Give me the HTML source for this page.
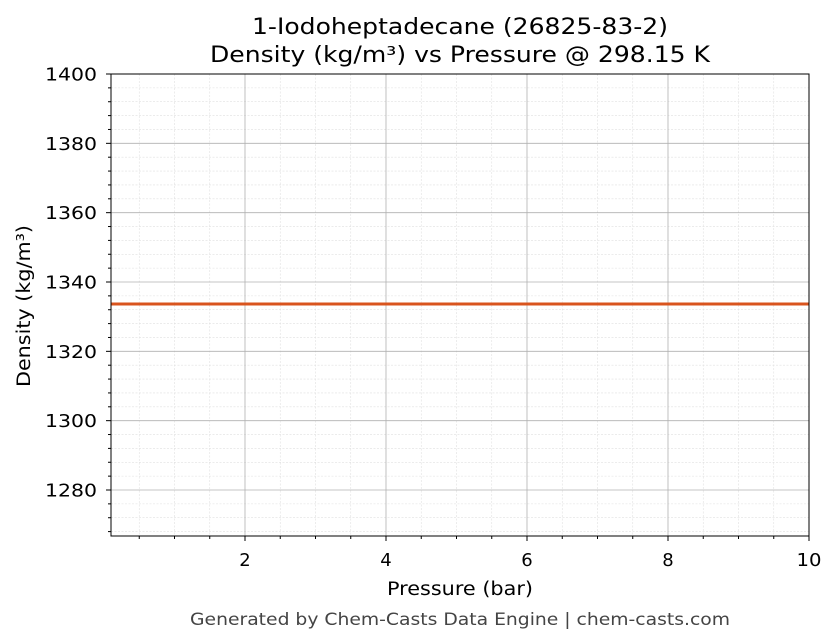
<!DOCTYPE html>
<html><head><meta charset="utf-8"><style>body{margin:0;background:#fff}svg{display:block}</style></head><body>
<svg width="836" height="644" xmlns="http://www.w3.org/2000/svg" font-family="DejaVu Sans, Liberation Sans, sans-serif">
<rect width="836" height="644" fill="#fff"/>
<g id="minor" stroke="#e0e0e0" stroke-width="0.6" stroke-dasharray="2,1.5">
</g>
<g id="major" stroke="#b0b0b0" stroke-width="0.8"></g>
<line x1="111" y1="304" x2="809" y2="304" stroke="#d9541e" stroke-width="3"/>
<rect x="111" y="74" width="698" height="462" fill="none" stroke="#000" stroke-width="1"/>
<g id="ticks" stroke="#000"></g>
<g id="labels" font-size="18" fill="#000"></g>
<text x="460" y="34" font-size="22" text-anchor="middle" textLength="416" lengthAdjust="spacingAndGlyphs">1-Iodoheptadecane (26825-83-2)</text>
<text x="460" y="62" font-size="22" text-anchor="middle" textLength="500" lengthAdjust="spacingAndGlyphs">Density (kg/m³) vs Pressure @ 298.15 K</text>
<text x="460" y="595" font-size="18.5" text-anchor="middle" textLength="146" lengthAdjust="spacingAndGlyphs">Pressure (bar)</text>
<text transform="translate(30,306) rotate(-90)" font-size="18.5" text-anchor="middle" textLength="162" lengthAdjust="spacingAndGlyphs">Density (kg/m³)</text>
<text x="460" y="625" font-size="17" fill="#444" text-anchor="middle" textLength="540" lengthAdjust="spacingAndGlyphs">Generated by Chem-Casts Data Engine | chem-casts.com</text>
<script>
const ns="http://www.w3.org/2000/svg";
function L(g,x1,y1,x2,y2){const l=document.createElementNS(ns,"line");l.setAttribute("x1",x1);l.setAttribute("y1",y1);l.setAttribute("x2",x2);l.setAttribute("y2",y2);document.getElementById(g).appendChild(l);}
function T(x,y,s,a,len){const t=document.createElementNS(ns,"text");t.setAttribute("x",x);t.setAttribute("y",y);t.setAttribute("text-anchor",a);if(len){t.setAttribute("textLength",len);t.setAttribute("lengthAdjust","spacingAndGlyphs");}t.textContent=s;document.getElementById("labels").appendChild(t);}
const X=v=>245+(v-2)*70.5, Y=v=>74+(1400-v)*416/120;
for(let v=0.5;v<10;v+=0.5){const x=X(v);if(x<=111)continue;if(v%2!==0){L("minor",x,74,x,536);L("ticks",x,536,x,539);}}
for(let v=1268;v<1400;v+=4){const y=Y(v);if(v%20!==0){L("minor",111,y,809,y);L("ticks",108,y,111,y);}}
for(let v=2;v<=10;v+=2){const x=X(v);if(v<10)L("major",x,74,x,536);L("ticks",x,536,x,541);T(x,566,String(v),"middle",v==10?25:0);}
for(let v=1280;v<=1400;v+=20){const y=Y(v);if(v<1400)L("major",111,y,809,y);L("ticks",106,y,111,y);T(97,y+6.5,String(v),"end",52);}
</script>
</svg>
</body></html>
